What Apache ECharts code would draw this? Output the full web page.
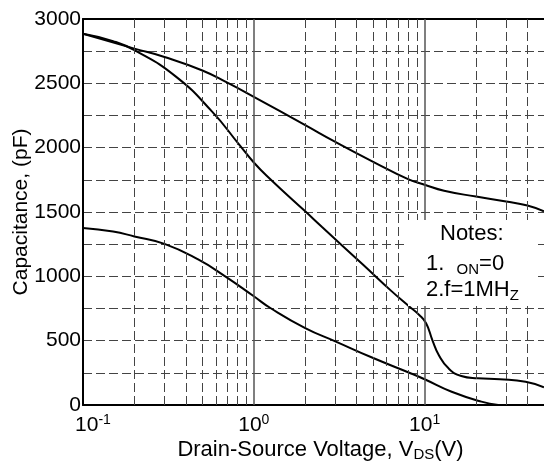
<!DOCTYPE html>
<html>
<head>
<meta charset="utf-8">
<style>
  html, body { margin: 0; padding: 0; background: #fff; }
  #chart { width: 544px; height: 466px; }
</style>
<script src="https://cdn.jsdelivr.net/npm/echarts@6/dist/echarts.min.js"></script>
</head>
<body>
<div id="chart"></div>
<script>
var fontFamily = 'Arial, "Liberation Sans", sans-serif';

// upper curve
var vdsA = [0.1, 0.2, 0.3, 0.5, 0.7, 1, 2, 3, 5, 8, 10, 13, 20, 30, 40, 50];
var capA = [2885, 2770, 2705, 2600, 2505, 2395, 2175, 2045, 1890, 1755, 1712, 1665, 1620, 1582, 1550, 1505];
// middle curve
var vdsB = [0.1, 0.15, 0.2, 0.35, 0.57, 0.81, 1, 1.25, 2, 2.5, 4.35, 6.4, 8.1, 9.3, 10.2, 11.1, 12.1, 13.8, 16.4, 20.4, 27.6, 39, 50];
var capB = [2885, 2828, 2758, 2552, 2280, 2034, 1885, 1755, 1505, 1385, 1092, 885, 768, 700, 635, 505, 389, 285, 225, 207, 200, 181, 138];
// lower curve
var vdsC = [0.1, 0.15, 0.2, 0.3, 0.475, 0.68, 1, 1.25, 2, 3, 5, 8.2, 10, 14.4, 21.5, 27];
var capC = [1375, 1348, 1310, 1252, 1129, 1000, 845, 754, 598, 495, 365, 249, 200, 103, 26, 0];

// grid lines / ticks
var minorX = [0.2, 0.3, 0.4, 0.5, 0.6, 0.7, 0.8, 0.9, 2, 3, 4, 5, 6, 7, 8, 9, 20, 30, 40];
var majorX = [1, 10];
var xTickVals = [0.1, 1, 10];
var xTickExp = ['-1', '0', '1'];
var yLabelStep = 500;

function pairs(xs, ys) {
  return xs.map(function (x, i) { return [x, ys[i]]; });
}

function curve(data) {
  return {
    type: 'line',
    data: data,
    smooth: true,
    symbol: 'none',
    z: 3,
    lineStyle: { color: '#000', width: 2 }
  };
}

var chart = echarts.init(document.getElementById('chart'));

var gridLines = minorX.map(function (v) { return { xAxis: v }; }).concat(
  majorX.map(function (v) {
    return { xAxis: v, lineStyle: { type: 'solid', color: '#555', width: 1.5 } };
  })
);

var option = {
  animation: false,
  backgroundColor: '#fff',
  grid: { left: 83, top: 19, right: 0, bottom: 61, outerBoundsMode: 'none' },
  xAxis: [
    {
      type: 'log',
      min: 0.1,
      max: 50,
      axisLine: { show: true, onZero: false, lineStyle: { color: '#000', width: 2 } },
      axisTick: { show: false },
      splitLine: { show: false },
      axisLabel: {
        margin: 8,
        color: '#000',
        formatter: function (v) {
          for (var i = 0; i < xTickVals.length; i++) {
            if (Math.abs(Math.log10(v) - Math.log10(xTickVals[i])) < 1e-6) {
              return (i === 0 ? '{pad| }' : '') + '{b|10}{sup|' + xTickExp[i] + '}';
            }
          }
          return '';
        },
        rich: {
          pad: { width: 20, fontSize: 20, lineHeight: 24 },
          b: { fontSize: 21, fontFamily: fontFamily, color: '#000', lineHeight: 24 },
          sup: { fontSize: 14, fontFamily: fontFamily, color: '#000', lineHeight: 14, verticalAlign: 'top' }
        }
      },
      name: '{pad| }Drain-Source Voltage, V{sub|DS}(V)',
      nameLocation: 'middle',
      nameGap: 33,
      nameMoveOverlap: false,
      nameTextStyle: {
        fontSize: 22,
        fontFamily: fontFamily,
        color: '#000',
        lineHeight: 24,
        rich: {
          pad: { width: 14, lineHeight: 24 },
          sub: { fontSize: 15, fontFamily: fontFamily, color: '#000', lineHeight: 20, verticalAlign: 'bottom' }
        }
      }
    },
    {
      type: 'log',
      position: 'top',
      min: 0.1,
      max: 50,
      axisLine: { show: true, onZero: false, lineStyle: { color: '#000', width: 2 } },
      axisTick: { show: false },
      axisLabel: { show: false },
      splitLine: { show: false }
    }
  ],
  yAxis: {
    type: 'value',
    min: 0,
    max: 3000,
    interval: 250,
    axisLine: { show: true, lineStyle: { color: '#000', width: 2 } },
    axisTick: { show: false },
    splitLine: { show: true, lineStyle: { color: '#444', width: 1, type: [9, 4] } },
    axisLabel: {
      margin: 2,
      color: '#000',
      fontSize: 21,
      fontFamily: fontFamily,
      formatter: function (v) { return v % yLabelStep === 0 ? String(v) : ''; }
    },
    name: 'Capacitance, (pF)',
    nameLocation: 'middle',
    nameGap: 51,
    nameMoveOverlap: false,
    nameTextStyle: { fontSize: 21, fontFamily: fontFamily, color: '#000' }
  },
  series: [
    {
      type: 'line',
      data: [],
      silent: true,
      z: 1,
      markLine: {
        silent: true,
        symbol: 'none',
        label: { show: false },
        lineStyle: { color: '#444', width: 1, type: [9, 4] },
        data: gridLines
      }
    },
    curve(pairs(vdsA, capA)),
    curve(pairs(vdsB, capB)),
    curve(pairs(vdsC, capC))
  ],
  graphic: [
    {
      type: 'rect',
      z: 100,
      shape: { x: 408, y: 220, width: 127, height: 86 },
      style: { fill: '#fff' }
    },
    {
      type: 'text',
      z: 101,
      x: 440, y: 234,
      style: { text: 'Notes:', fontSize: 22, fontFamily: fontFamily, fill: '#000', verticalAlign: 'middle' }
    },
    {
      type: 'text',
      z: 101,
      x: 426, y: 264,
      style: {
        text: '1.  {sub|ON}=0',
        fontSize: 22, fontFamily: fontFamily, fill: '#000', verticalAlign: 'middle', lineHeight: 26,
        rich: { sub: { fontSize: 15, fontFamily: fontFamily, fill: '#000', lineHeight: 18, verticalAlign: 'bottom' } }
      }
    },
    {
      type: 'text',
      z: 101,
      x: 426, y: 290,
      style: {
        text: '2.f=1MH{sub|Z}',
        fontSize: 22, fontFamily: fontFamily, fill: '#000', verticalAlign: 'middle', lineHeight: 26,
        rich: { sub: { fontSize: 15, fontFamily: fontFamily, fill: '#000', lineHeight: 18, verticalAlign: 'bottom' } }
      }
    }
  ]
};

chart.setOption(option);
</script>
</body>
</html>
